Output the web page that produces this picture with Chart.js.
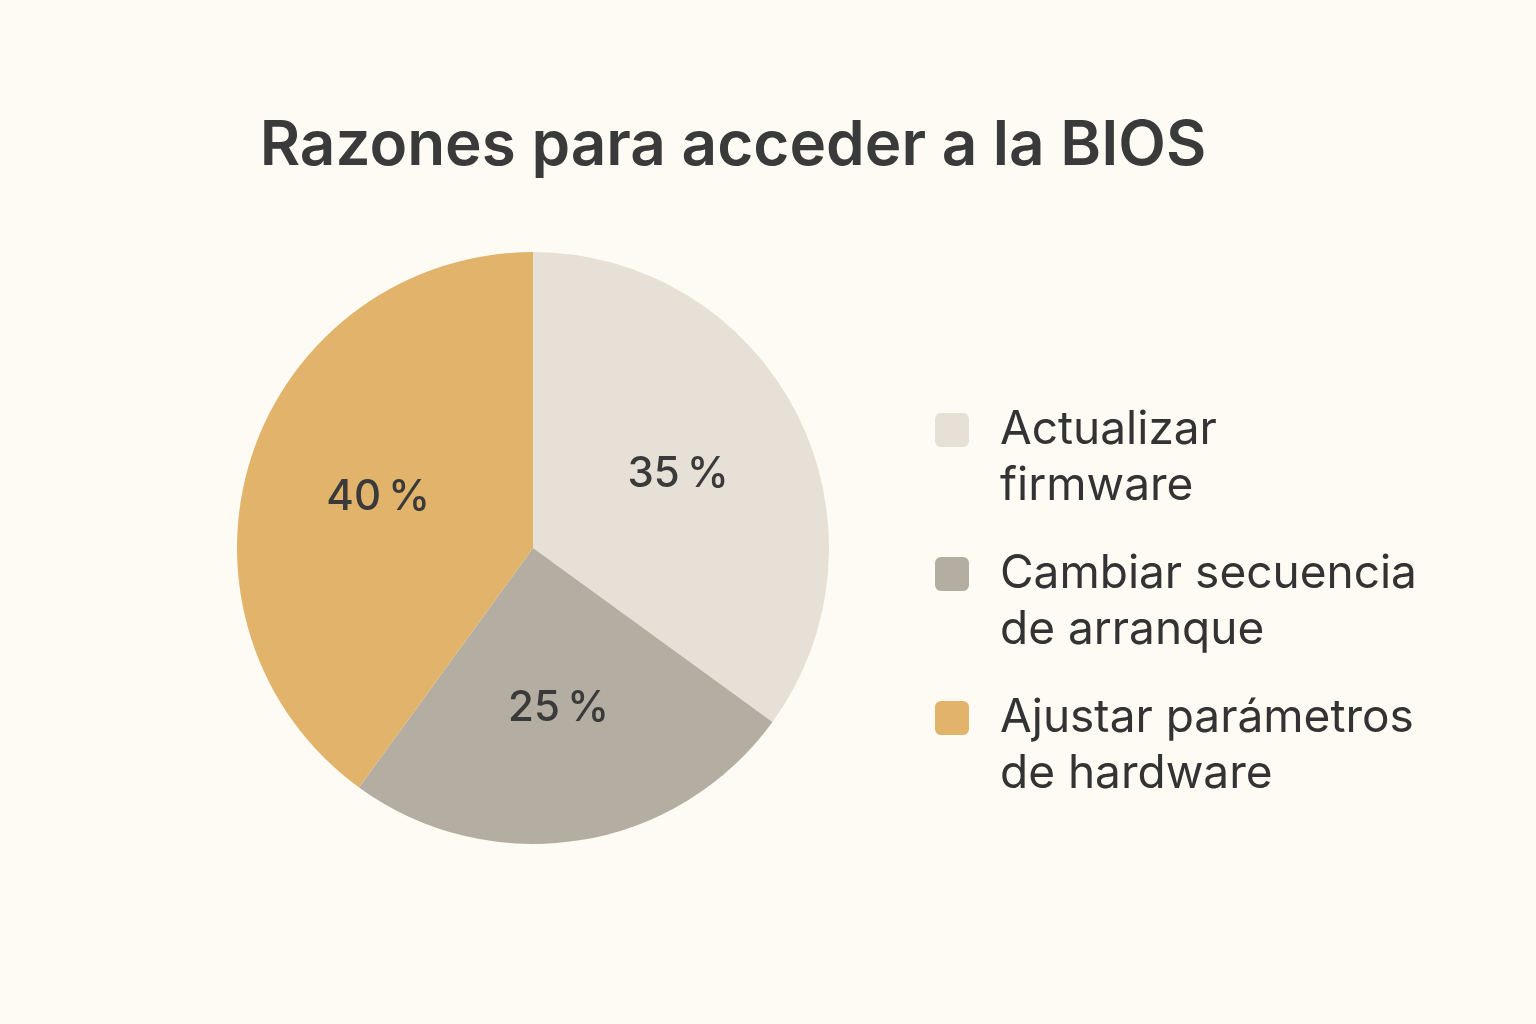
<!DOCTYPE html>
<html><head><meta charset="utf-8">
<script src="https://cdn.jsdelivr.net/npm/chart.js@4/dist/chart.umd.min.js"></script>
<style>
html,body{margin:0;padding:0;background:#FDFBF4;font-family:Inter,"Noto Sans",sans-serif;}
#wrap{position:relative;width:1536px;height:1024px;}
canvas{position:absolute;left:0;top:0;}
#title{position:absolute;left:0;width:1466px;text-align:center;top:105px;font-size:62px;font-weight:600;color:#3a3a3a;}
#legend{position:absolute;left:935px;top:399px;color:#333;font-size:46px;line-height:56px;}
.item{position:relative;padding-left:65px;margin-bottom:32px;}
.box{position:absolute;left:0;top:14px;width:34px;height:34px;border-radius:6px;}
</style></head><body>
<div id="wrap"><canvas id="c" width="1536" height="1024"></canvas>
<div id="title">Razones para acceder a la BIOS</div>
<div id="legend"></div></div>
<script>
const categories=[["Actualizar","firmware"],["Cambiar secuencia","de arranque"],["Ajustar parámetros","de hardware"]];
const values=[35,25,40];
const colors=["#E6E0D6","#B3ADA2","#E2B36A"];
const lg=document.getElementById('legend');
categories.forEach((c,i)=>{const d=document.createElement('div');d.className='item';
d.innerHTML='<span class="box" style="background:'+colors[i]+'"></span>'+c.join('<br>');lg.appendChild(d);});
const labelPlugin={id:'lbl',afterDatasetsDraw(ch){const ctx=ch.ctx;const m=ch.getDatasetMeta(0);
ctx.save();ctx.font='500 42px Inter, "Noto Sans", sans-serif';ctx.fillStyle='#3a3a3a';ctx.textAlign='center';ctx.textBaseline='middle';
m.data.forEach((a,i)=>{const ang=(a.startAngle+a.endAngle)/2;const r=a.outerRadius*0.55;
ctx.fillText(values[i]+'\u2009%',a.x+Math.cos(ang)*r,a.y+Math.sin(ang)*r);});ctx.restore();}};
new Chart(document.getElementById('c'),{type:'pie',
data:{labels:categories.map(c=>c.join(' ')),datasets:[{data:values,backgroundColor:colors,borderWidth:0}]},
options:{responsive:false,animation:false,layout:{padding:{left:237,right:707,top:252,bottom:180}},
plugins:{legend:{display:false},tooltip:{enabled:false}}},plugins:[labelPlugin]});
</script></body></html>
